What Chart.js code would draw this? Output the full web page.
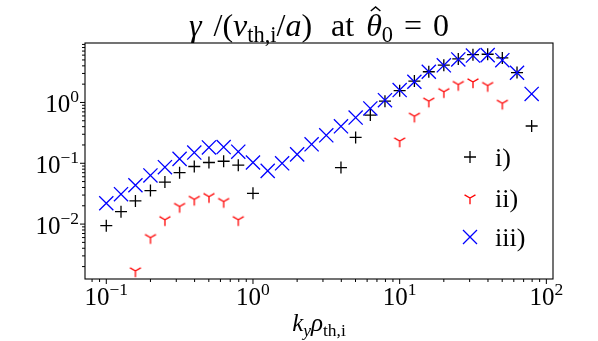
<!DOCTYPE html>
<html>
<head>
<meta charset="utf-8">
<script src="https://cdn.jsdelivr.net/npm/chart.js@4.4.1/dist/chart.umd.min.js"></script>
<style>
  body { margin: 0; background: #fff; }
  #wrap { width: 598px; height: 341px; }
</style>
</head>
<body>
<div id="wrap"><canvas id="growth" width="598" height="341"></canvas></div>
<script>
// ================== Data ==================
const ky = [0.1, 0.126, 0.158, 0.2, 0.251, 0.316, 0.398, 0.501, 0.631, 0.794,
            1.0, 1.26, 1.58, 2.0, 2.51, 3.16, 3.98, 5.01, 6.31, 7.94,
            10.0, 12.6, 15.8, 20.0, 25.1, 31.6, 39.8, 50.1, 63.1, 79.4];

// case i) black +
const gammaI = [0.0094, 0.016, 0.024, 0.0355, 0.049, 0.07, 0.0885, 0.103, 0.108, 0.093,
                0.032, null, null, null, null, null, 0.085, 0.266, 0.62, 1.05,
                1.56, 2.25, 3.2, 4.1, 5.2, 6.1, 6.2, 5.4, 3.1, 0.41];

// case ii) red tri_down
const gammaII = [null, null, 0.0017, 0.006, 0.0118, 0.0195, 0.0255, 0.0283, 0.0235, 0.0118,
                 null, null, null, null, null, null, null, null, null, null,
                 0.232, 0.594, 1.05, 1.5, 1.97, 2.18, 1.9, 0.97, null, null];

// case iii) blue x
const gammaIII = [0.022, 0.031, 0.0435, 0.063, 0.0863, 0.118, 0.15, 0.182, 0.185, 0.155,
                  0.103, 0.075, 0.1, 0.14, 0.205, 0.288, 0.406, 0.565, 0.796, 1.09,
                  1.6, 2.19, 3.2, 4.08, 5.1, 5.9, 6.0, 4.95, 3.08, 1.38];

const seriesNames = ["i)", "ii)", "iii)"];
const xMajor = [0.1, 1, 10, 100];
const yMajor = [0.01, 0.1, 1];

const FONT = '"Liberation Serif", "DejaVu Serif", serif';

function toPoints(vals) {
  let pts = [];
  vals.forEach((v, i) => {
    if (v !== null) pts.push({ x: ky[i], y: v });
  });
  return pts;
}

// marker "1" of matplotlib (tri_down)
function makeTri(r, color) {
  let c = document.createElement("canvas");
  let size = Math.ceil(2 * r + 4);
  if (size % 2) size++;
  c.width = size; c.height = size;
  let g = c.getContext("2d");
  let cx = size / 2, cy = size / 2;
  g.strokeStyle = color;
  g.lineWidth = 1.3;
  g.beginPath();
  g.moveTo(cx, cy); g.lineTo(cx, cy + r);
  g.moveTo(cx, cy); g.lineTo(cx - 0.866 * r, cy - 0.5 * r);
  g.moveTo(cx, cy); g.lineTo(cx + 0.866 * r, cy - 0.5 * r);
  g.stroke();
  return c;
}
const triRed = makeTri(6.3, "#ff0000");

// ================== Rich text helper ==================
// parts: {t, it, sub, sup, hat} or {gap: px}
function richText(ctx, parts, x, y, size, align) {
  let items = parts.map(p => {
    if (p.gap) return { gap: true, w: p.gap };
    let s = (p.sub || p.sup) ? size * 0.7 : size;
    let font = (p.it ? "italic " : "") + s + "px " + FONT;
    ctx.font = font;
    let dy = p.sub ? size * 0.2 : (p.sup ? -size * 0.4 : 0);
    return { t: p.t, font: font, dy: dy, w: ctx.measureText(p.t).width, hat: p.hat, s: s };
  });
  let total = items.reduce((a, b) => a + b.w, 0);
  let cx = x;
  if (align === "center") cx = x - total / 2;
  if (align === "right") cx = x - total;
  ctx.textAlign = "left";
  ctx.textBaseline = "alphabetic";
  items.forEach(it => {
    if (!it.gap) {
      ctx.font = it.font;
      ctx.fillText(it.t, cx, y + it.dy);
      if (it.hat) {
        let mx = cx + it.w / 2 + it.s * 0.05;
        let top = y - it.s * 0.78;
        ctx.beginPath();
        ctx.moveTo(mx - it.s * 0.15, top);
        ctx.lineTo(mx, top - it.s * 0.13);
        ctx.lineTo(mx + it.s * 0.15, top);
        ctx.lineWidth = 1.4;
        ctx.stroke();
      }
    }
    cx += it.w;
  });
  return total;
}

function powLabel(v) {
  let e = Math.round(Math.log10(v));
  return [{ t: "10" }, { t: String(e).replace("-", "\u2212"), sup: true }];
}

// ================== Axes, title, legend ==================
const decor = {
  id: "decor",
  afterDraw(chart) {
    let ctx = chart.ctx;
    let a = chart.chartArea;
    let xs = chart.scales.x, ys = chart.scales.y;
    ctx.save();
    ctx.strokeStyle = "#000";
    ctx.fillStyle = "#000";

    // frame
    ctx.lineWidth = 1.1;
    ctx.strokeRect(a.left, a.top, a.right - a.left, a.bottom - a.top);

    // ticks
    ctx.lineWidth = 1;
    for (let d = -3; d <= 2; d++) {
      for (let m = 1; m <= 9; m++) {
        let v = m * Math.pow(10, d);
        let len = m === 1 ? 5 : 3;
        if (v >= xs.min && v <= xs.max) {
          let px = xs.getPixelForValue(v);
          ctx.beginPath();
          ctx.moveTo(px, a.bottom);
          ctx.lineTo(px, a.bottom + len);
          ctx.stroke();
        }
        if (v >= ys.min && v <= ys.max) {
          let py = ys.getPixelForValue(v);
          ctx.beginPath();
          ctx.moveTo(a.left, py);
          ctx.lineTo(a.left - len, py);
          ctx.stroke();
        }
      }
    }

    // tick labels
    xMajor.forEach(v => {
      richText(ctx, powLabel(v), xs.getPixelForValue(v), a.bottom + 26, 25, "center");
    });
    yMajor.forEach(v => {
      richText(ctx, powLabel(v), a.left - 6, ys.getPixelForValue(v) + 9.5, 25, "right");
    });

    // title
    richText(ctx, [
      { t: "\u03b3", it: true }, { gap: 12 }, { t: "/(" }, { t: "v", it: true }, { t: "th,i", sub: true },
      { t: "/" }, { t: "a", it: true }, { t: ")" }, { gap: 19 }, { t: "at" }, { gap: 12 },
      { t: "\u03b8", it: true, hat: true }, { t: "0", sub: true }, { gap: 11 }, { t: "=" },
      { gap: 11 }, { t: "0" }
    ], (a.left + a.right) / 2, 36, 32, "center");

    // x label
    richText(ctx, [
      { t: "k", it: true }, { t: "y", it: true, sub: true },
      { t: "\u03c1", it: true }, { t: "th,i", sub: true }
    ], (a.left + a.right) / 2, 331, 25, "center");

    // legend
    let lx = 470;
    let rows = [157, 198, 237];
    ctx.lineWidth = 1.3;
    ctx.strokeStyle = "#000";
    ctx.beginPath();
    ctx.moveTo(lx - 6, rows[0]); ctx.lineTo(lx + 6, rows[0]);
    ctx.moveTo(lx, rows[0] - 6); ctx.lineTo(lx, rows[0] + 6);
    ctx.stroke();
    ctx.drawImage(triRed, lx - triRed.width / 2, rows[1] - triRed.height / 2);
    ctx.strokeStyle = "#0000ff";
    ctx.beginPath();
    ctx.moveTo(lx - 7, rows[2] - 7); ctx.lineTo(lx + 7, rows[2] + 7);
    ctx.moveTo(lx - 7, rows[2] + 7); ctx.lineTo(lx + 7, rows[2] - 7);
    ctx.stroke();
    ctx.fillStyle = "#000";
    seriesNames.forEach((name, i) => {
      richText(ctx, [{ t: name }], 495, rows[i] + 9, 26, "left");
    });
    ctx.restore();
  }
};

// ================== Chart ==================
const ctx = document.getElementById("growth").getContext("2d");
new Chart(ctx, {
  type: "scatter",
  data: {
    datasets: [
      {
        label: seriesNames[0],
        data: toPoints(gammaI),
        pointStyle: "cross",
        pointRadius: 6,
        borderColor: "#000",
        backgroundColor: "#000",
        borderWidth: 1.3,
        order: 3
      },
      {
        label: seriesNames[1],
        data: toPoints(gammaII),
        pointStyle: triRed,
        pointRadius: 6,
        borderColor: "#ff0000",
        backgroundColor: "#ff0000",
        order: 2
      },
      {
        label: seriesNames[2],
        data: toPoints(gammaIII),
        pointStyle: "crossRot",
        pointRadius: 10,
        borderColor: "#0000ff",
        backgroundColor: "#0000ff",
        borderWidth: 1.3,
        order: 1
      }
    ]
  },
  options: {
    responsive: false,
    animation: false,
    devicePixelRatio: 1,
    layout: { padding: { left: 85, right: 45, top: 43, bottom: 62 } },
    plugins: {
      legend: { display: false },
      title: { display: false },
      tooltip: { enabled: false }
    },
    scales: {
      x: { type: "logarithmic", min: 0.0716, max: 111, display: false },
      y: { type: "logarithmic", min: 0.00125, max: 9.5, display: false }
    }
  },
  plugins: [decor]
});
</script>
</body>
</html>
